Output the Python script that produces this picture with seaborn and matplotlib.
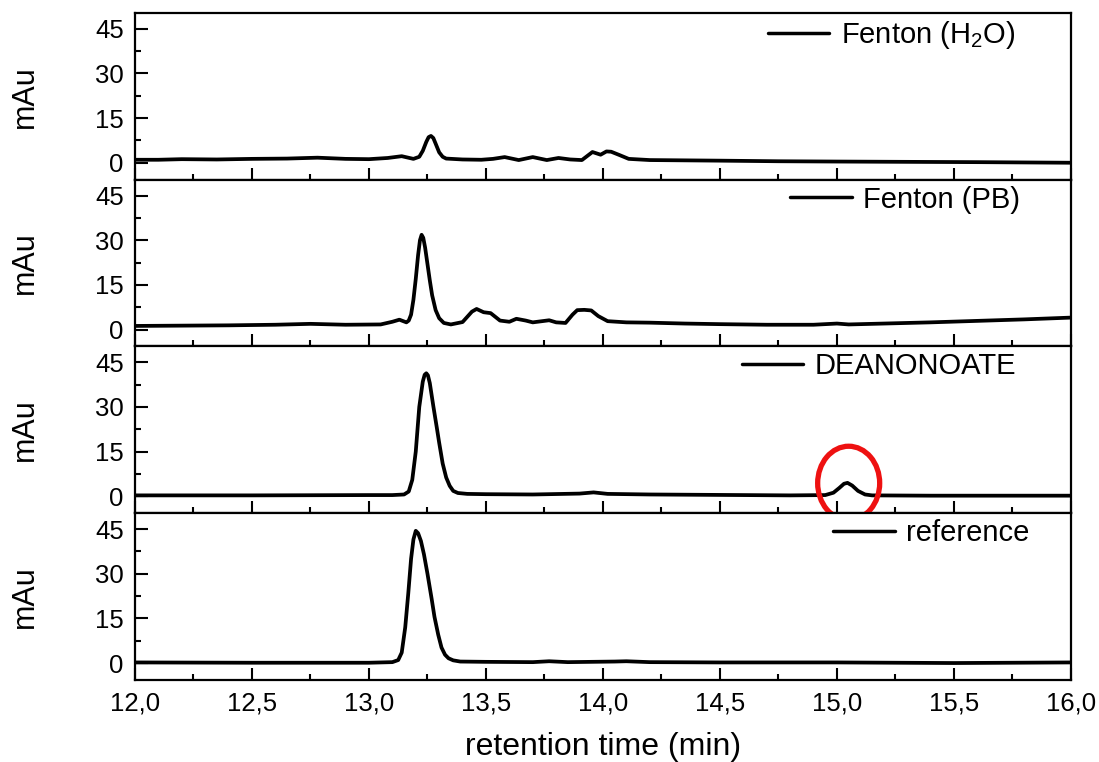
import numpy as np
import pandas as pd
import matplotlib
matplotlib.use("Agg")
import matplotlib.pyplot as plt
from matplotlib.patches import Ellipse
from matplotlib.ticker import MultipleLocator, FixedLocator
import seaborn as sns

# chromatogram traces (retention time in min, signal in mAu)
h2o_t = [12.00, 12.10, 12.20, 12.35, 12.50, 12.65, 12.78, 12.90, 13.00, 13.08, 13.14, 13.19,
         13.215, 13.23, 13.245, 13.255, 13.265, 13.275, 13.285, 13.30, 13.315, 13.33, 13.40, 13.48,
         13.53, 13.58, 13.64, 13.70, 13.76, 13.81, 13.86, 13.91, 13.935, 13.955, 13.99, 14.015,
         14.035, 14.07, 14.11, 14.20, 14.35, 14.50, 14.75, 15.00, 15.30, 15.60, 16.00]
h2o_y = [1.0, 1.0, 1.2, 1.1, 1.3, 1.4, 1.7, 1.3, 1.2, 1.6, 2.2, 1.3,
         2.0, 4.0, 7.0, 8.6, 9.0, 8.3, 6.4, 3.5, 2.0, 1.4, 1.1, 1.0,
         1.3, 1.9, 0.9, 1.9, 0.9, 1.6, 1.1, 0.9, 2.4, 3.6, 2.7, 3.8,
         3.7, 2.6, 1.3, 0.9, 0.8, 0.7, 0.5, 0.4, 0.3, 0.2, 0.0]

pb_t = [12.00, 12.20, 12.40, 12.60, 12.75, 12.90, 13.05, 13.10, 13.13, 13.16, 13.17, 13.18,
        13.19, 13.20, 13.21, 13.218, 13.225, 13.232, 13.24, 13.25, 13.26, 13.27, 13.285, 13.30,
        13.32, 13.35, 13.40, 13.44, 13.46, 13.49, 13.52, 13.56, 13.60, 13.63, 13.67, 13.70,
        13.74, 13.77, 13.80, 13.84, 13.87, 13.89, 13.92, 13.95, 13.98, 14.02, 14.10, 14.20,
        14.35, 14.50, 14.70, 14.90, 15.00, 15.05, 15.20, 15.40, 15.60, 15.80, 16.00]
pb_y = [1.2, 1.3, 1.4, 1.6, 1.9, 1.6, 1.7, 2.6, 3.3, 2.4, 3.0, 5.0,
        10.0, 17.0, 25.0, 30.0, 31.8, 30.8, 27.5, 22.0, 16.5, 11.5, 6.5, 3.8,
        2.2, 1.7, 2.5, 6.0, 6.9, 5.8, 5.5, 3.0, 2.6, 3.6, 3.0, 2.4,
        2.8, 3.1, 2.4, 2.2, 5.0, 6.5, 6.6, 6.4, 4.5, 2.8, 2.4, 2.3,
        2.0, 1.8, 1.6, 1.6, 2.0, 1.7, 2.0, 2.4, 2.9, 3.4, 4.0]

dea_t = [12.00, 12.50, 13.00, 13.10, 13.15, 13.17, 13.185, 13.20, 13.215, 13.23, 13.238, 13.245,
         13.252, 13.26, 13.275, 13.29, 13.30, 13.315, 13.33, 13.345, 13.36, 13.38, 13.42, 13.50,
         13.70, 13.90, 13.96, 14.02, 14.20, 14.40, 14.60, 14.80, 14.95, 14.985, 15.01, 15.03,
         15.045, 15.065, 15.09, 15.12, 15.15, 15.40, 15.70, 16.00]
dea_y = [0.3, 0.3, 0.4, 0.4, 0.6, 1.6, 5.5, 15.0, 30.0, 38.5, 40.8, 41.3,
         40.6, 38.0, 30.3, 23.0, 18.0, 11.0, 6.3, 3.5, 1.8, 1.1, 0.8, 0.7,
         0.6, 0.9, 1.3, 0.8, 0.6, 0.5, 0.4, 0.3, 0.4, 1.2, 2.8, 4.2,
         4.5, 3.6, 1.8, 0.6, 0.3, 0.2, 0.2, 0.2]

ref_t = [12.00, 12.50, 13.00, 13.10, 13.125, 13.14, 13.155, 13.168, 13.18, 13.19, 13.20, 13.21,
         13.222, 13.235, 13.25, 13.268, 13.28, 13.296, 13.31, 13.325, 13.34, 13.36, 13.39, 13.50,
         13.70, 13.77, 13.85, 14.05, 14.10, 14.20, 14.50, 15.00, 15.50, 16.00]
ref_y = [0.2, 0.1, 0.1, 0.3, 1.0, 3.5, 12.0, 23.4, 35.0, 41.5, 44.4, 43.6,
         41.0, 36.5, 30.0, 21.5, 15.5, 9.5, 5.2, 2.8, 1.6, 0.9, 0.5, 0.4,
         0.3, 0.6, 0.3, 0.5, 0.6, 0.3, 0.2, 0.2, 0.0, 0.2]

labels = ["Fenton (H$_2$O)", "Fenton (PB)", "DEANONOATE", "reference"]
x_ticks = [12.0, 12.5, 13.0, 13.5, 14.0, 14.5, 15.0, 15.5, 16.0]
x_ticklabels = ["12,0", "12,5", "13,0", "13,5", "14,0", "14,5", "15,0", "15,5", "16,0"]
y_ticks = [0, 15, 30, 45]

traces = [(h2o_t, h2o_y), (pb_t, pb_y), (dea_t, dea_y), (ref_t, ref_y)]

sns.set_style("ticks")
plt.rcParams["font.family"] = ["Liberation Sans", "DejaVu Sans"]
plt.rcParams["mathtext.fontset"] = "custom"
plt.rcParams["mathtext.rm"] = "Liberation Sans"
plt.rcParams["mathtext.it"] = "Liberation Sans"
plt.rcParams["text.color"] = "black"
plt.rcParams["axes.labelcolor"] = "black"
plt.rcParams["xtick.color"] = "black"
plt.rcParams["ytick.color"] = "black"
plt.rcParams["axes.edgecolor"] = "black"

fig, axes = plt.subplots(4, 1, figsize=(10.99, 7.62), dpi=100, sharex=True)
fig.subplots_adjust(left=0.1228, right=0.9745, top=0.983, bottom=0.1076, hspace=0)

# legend anchor (x in axes fraction) per panel, roughly where the text ends
leg_x = [0.947, 0.952, 0.948, 0.962]

for i, (ax, (t, y), lab) in enumerate(zip(axes, traces, labels)):
    df = pd.DataFrame({"t": t, "mAu": y})
    sns.lineplot(data=df, x="t", y="mAu", ax=ax, color="black", lw=2.7, label=lab)
    ax.set_xlim(12.0, 16.0)
    ax.set_ylim(-5.7, 50.3)
    ax.yaxis.set_major_locator(FixedLocator(y_ticks))
    ax.yaxis.set_minor_locator(MultipleLocator(7.5))
    ax.xaxis.set_major_locator(FixedLocator(x_ticks))
    ax.xaxis.set_minor_locator(MultipleLocator(0.25))
    ax.tick_params(which="both", direction="in", width=1.5, top=False, right=False,
                   labelsize=18.5, pad=8)
    ax.tick_params(which="major", length=9)
    ax.tick_params(which="minor", length=4.5)
    for s in ax.spines.values():
        s.set_linewidth(1.6)
    ax.set_ylabel("mAu", fontsize=22, labelpad=40)
    ax.set_xlabel("")
    leg = ax.legend(loc="upper right", bbox_to_anchor=(leg_x[i], 1.0), frameon=False,
                    fontsize=21, handlelength=2.1, handletextpad=0.4, borderpad=0.2,
                    borderaxespad=0)
    for ln in leg.get_lines():
        ln.set_linewidth(2.5)

axes[-1].set_xticklabels(x_ticklabels)
axes[-1].set_xlabel("retention time (min)", fontsize=23, labelpad=12)
fig.align_ylabels(axes)

# red circle highlighting the small peak in the DEANONOATE trace
circ = Ellipse((15.05, 4.4), width=0.265, height=24.8, fill=False, edgecolor="#ee1111",
               lw=3.8, clip_on=False, zorder=10)
axes[2].add_patch(circ)

fig.savefig("out.png", dpi=100)
